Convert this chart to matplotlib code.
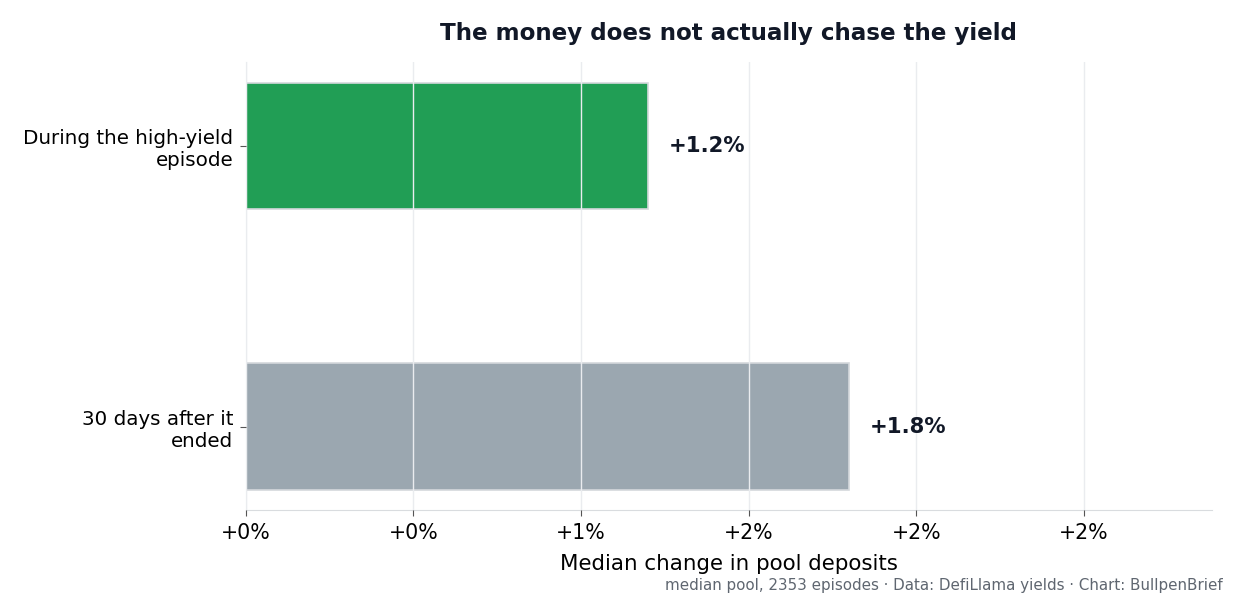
import numpy as np
import matplotlib
matplotlib.use('Agg')
import matplotlib.pyplot as plt
from matplotlib.ticker import FuncFormatter

# datos del grafico
categorias = ['During the high-yield\nepisode', '30 days after it\nended']
valores = [1.2, 1.8]
colores = ['#219e55', '#9ba7b0']
etiquetas = ['+1.2%', '+1.8%']

fig = plt.figure(figsize=(12.35, 5.98), dpi=100)
ax = fig.add_axes([0.199, 0.147, 0.782, 0.749])

y = np.arange(len(categorias))
ax.barh(y, valores, height=0.45, color=colores, edgecolor='#d4d8dc', linewidth=1.2, zorder=2)
ax.invert_yaxis()
ax.set_xlim(0, max(valores) * 1.6)
ax.set_xticks(np.arange(0, 2.51, 0.5))
ax.xaxis.set_major_formatter(FuncFormatter(lambda v, p: '{:+.0f}%'.format(v)))
ax.set_yticks(y)
ax.set_yticklabels(categorias, fontsize=14.3)

# grilla encima de las barras
ax.grid(axis='x', color='#eaecef', linewidth=1, zorder=3)
ax.set_axisbelow(False)

for i, v in enumerate(valores):
    ax.text(v + 0.06, i, etiquetas[i], va='center', ha='left', fontsize=15.3,
            fontweight='bold', color='#111827')

for s in ['top', 'right']:
    ax.spines[s].set_visible(False)
for s in ['left', 'bottom']:
    ax.spines[s].set_color('#d9dcdf')

ax.tick_params(axis='x', labelsize=14.8, length=4, color='#555555', pad=5)
ax.tick_params(axis='y', length=4, color='#555555', pad=5)
ax.set_xlabel('Median change in pool deposits', fontsize=15.4, labelpad=8)
ax.set_title('The money does not actually chase the yield', fontsize=16.6,
             fontweight='bold', color='#111827', pad=16)

fig.text(0.99, 0.008, 'median pool, 2353 episodes · Data: DefiLlama yields · Chart: BullpenBrief',
         ha='right', va='bottom', fontsize=10.9, color='#5f6670')

fig.savefig('out.png', dpi=100)
